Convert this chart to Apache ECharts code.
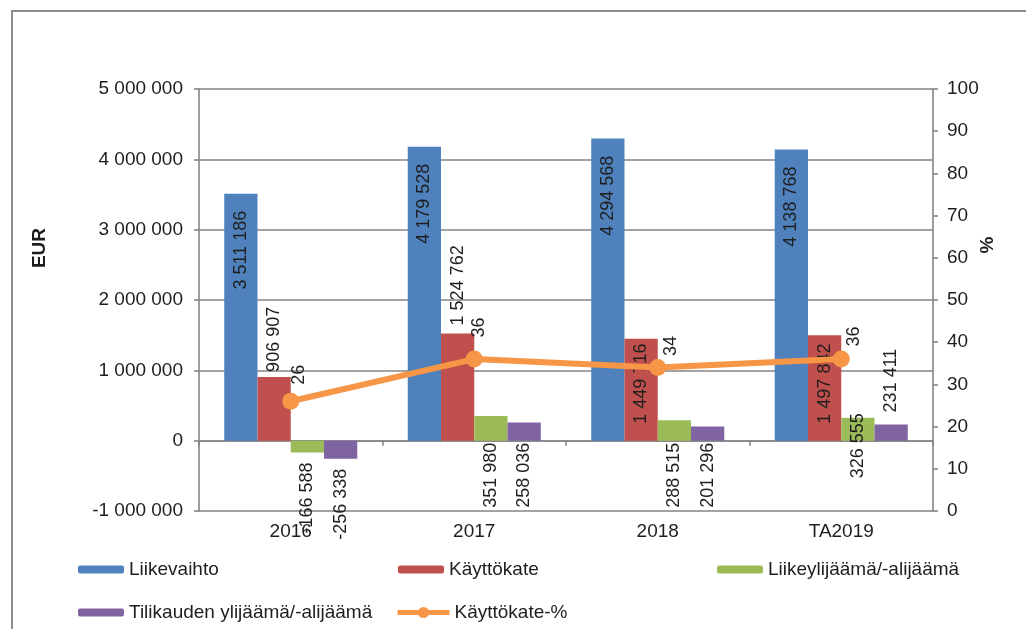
<!DOCTYPE html>
<html>
<head>
<meta charset="utf-8">
<script src="https://cdn.jsdelivr.net/npm/echarts@6/dist/echarts.min.js"></script>
<style>
  html, body { margin: 0; padding: 0; background: #ffffff; }
  #chart { width: 1026px; height: 629px; }
</style>
</head>
<body>
<div id="chart"></div>
<script>
// Categories and series values
const years = ['2016', '2017', '2018', 'TA2019'];
const liikevaihto = [3511186, 4179528, 4294568, 4138768];
const kayttokate = [906907, 1524762, 1449716, 1497842];
const liikeylijaama = [-166588, 351980, 288515, 326555];
const tilikaudenYlijaama = [-256338, 258036, 201296, 231411];
const kayttokatePct = [26, 36, 34, 36];

// Tick values for the two value axes
const eurTicks = { min: -1000000, max: 5000000, step: 1000000 };
const pctTicks = { min: 0, max: 100, step: 10 };

// Series names (legend text)
const names = ['Liikevaihto', 'Käyttökate', 'Liikeylijäämä/-alijäämä',
               'Tilikauden ylijäämä/-alijäämä', 'Käyttökate-%'];

const colors = ['#4F81BD', '#C0504D', '#9BBB59', '#8064A2', '#F79646'];
const FONT = 'Liberation Sans, Arial, sans-serif';
const TEXT = '#1e1e1e';
const GRIDC = '#858585';

function spaced(v) {
  const s = String(Math.abs(Math.round(v))).replace(/\B(?=(\d{3})+(?!\d))/g, ' ');
  return (v < 0 ? '-' : '') + s;
}

// Per-point placement of the rotated value labels: [position, distance, align]
const barLabelPlacement = [
  [['insideTop', 17, 'right'], ['insideTop', 17, 'right'], ['insideTop', 17, 'right'], ['insideTop', 17, 'right']],
  [['top', 5, 'left'], ['top', 8, 'left'], ['insideBottom', 17, 'left'], ['insideBottom', 17, 'left']],
  [['bottom', 10, 'right'], ['bottom', 2, 'right'], ['bottom', 2, 'right'], ['bottom', 5, 'center']],
  [['bottom', 10, 'right'], ['bottom', 2, 'right'], ['bottom', 2, 'right'], ['top', 12, 'left']]
];
// Label anchors for the line points, relative to the marker box
const lineLabelPlacement = [[17, -8], [13, -13], [22, -3], [21, -4]];

function barData(values, si) {
  return values.map((v, i) => {
    const p = barLabelPlacement[si][i];
    return {
      value: v,
      label: { position: p[0], distance: p[1], align: p[2] }
    };
  });
}

function barSeries(values, si) {
  return {
    name: names[si],
    type: 'bar',
    xAxisIndex: 0,
    yAxisIndex: 0,
    barGap: '0%',
    barCategoryGap: '27.5%',
    itemStyle: { color: colors[si] },
    label: {
      show: true,
      rotate: 90,
      verticalAlign: 'middle',
      fontFamily: FONT,
      fontSize: 18,
      color: TEXT,
      formatter: (p) => spaced(p.value)
    },
    data: barData(values, si)
  };
}

const chart = echarts.init(document.getElementById('chart'), null, { renderer: 'canvas' });

const legendText = { fontFamily: FONT, fontSize: 19, color: TEXT };
function legendAt(name, left, top, w, h, extra) {
  return Object.assign({
    data: [name], left: left, top: top, padding: 0,
    itemWidth: w, itemHeight: h, itemGap: 0,
    textStyle: legendText, selectedMode: false
  }, extra || {});
}

const option = {
  animation: false,
  color: colors,
  grid: { left: 199, right: 93, top: 89, bottom: 118, containLabel: false },
  legend: [
    legendAt(names[0], 78, 560, 46, 8),
    legendAt(names[1], 398, 560, 46, 8),
    legendAt(names[2], 717, 560, 46, 8),
    legendAt(names[3], 78, 603, 46, 8),
    legendAt(names[4], 395, 603, 52, 14, { lineStyle: { width: 5 } })
  ],
  xAxis: [
    {
      type: 'category',
      data: years,
      position: 'bottom',
      axisLine: { show: false, onZero: false },
      axisTick: { show: false },
      axisLabel: { fontFamily: FONT, fontSize: 19, color: TEXT, margin: 11 },
      splitLine: { show: false }
    },
    {
      type: 'category',
      data: years,
      position: 'bottom',
      axisLine: { show: true, onZero: true, lineStyle: { color: GRIDC, width: 1.6 } },
      axisTick: { show: true, length: 5, lineStyle: { color: GRIDC, width: 1.6 } },
      axisLabel: { show: false },
      splitLine: { show: false }
    }
  ],
  yAxis: [
    {
      type: 'value',
      min: eurTicks.min, max: eurTicks.max, interval: eurTicks.step,
      position: 'left',
      axisLine: { show: true, lineStyle: { color: GRIDC, width: 1.6 } },
      axisTick: { show: true, length: 5, lineStyle: { color: GRIDC, width: 1.6 } },
      axisLabel: { fontFamily: FONT, fontSize: 19, color: TEXT, margin: 16, formatter: (v) => spaced(v) },
      splitLine: { show: true, lineStyle: { color: GRIDC, width: 1.6 } }
    },
    {
      type: 'value',
      min: pctTicks.min, max: pctTicks.max, interval: pctTicks.step,
      position: 'right',
      axisLine: { show: true, lineStyle: { color: GRIDC, width: 1.6 } },
      axisTick: { show: true, length: 5, lineStyle: { color: GRIDC, width: 1.6 } },
      axisLabel: { fontFamily: FONT, fontSize: 19, color: TEXT, margin: 14 },
      splitLine: { show: false }
    }
  ],
  series: [
    barSeries(liikevaihto, 0),
    barSeries(kayttokate, 1),
    barSeries(liikeylijaama, 2),
    barSeries(tilikaudenYlijaama, 3),
    {
      name: names[4],
      type: 'line',
      xAxisIndex: 0,
      yAxisIndex: 1,
      z: 10,
      symbol: 'circle',
      symbolSize: 17,
      lineStyle: { color: colors[4], width: 6 },
      itemStyle: { color: colors[4] },
      label: {
        show: true,
        rotate: 90,
        align: 'left',
        verticalAlign: 'middle',
        fontFamily: FONT,
        fontSize: 18,
        color: TEXT
      },
      data: kayttokatePct.map((v, i) => ({ value: v, label: { position: lineLabelPlacement[i] } }))
    }
  ],
  graphic: [
    {
      type: 'rect',
      silent: true,
      shape: { x: 12, y: 11, width: 1100, height: 700 },
      style: { fill: 'none', stroke: '#8c8c8c', lineWidth: 2 }
    },
    {
      type: 'text',
      x: 40, y: 248, rotation: Math.PI / 2,
      style: {
        text: 'EUR', fontFamily: FONT, fontSize: 19, fontWeight: 'bold', fill: TEXT,
        align: 'center', verticalAlign: 'middle', textAlign: 'center', textVerticalAlign: 'middle'
      }
    },
    {
      type: 'text',
      x: 988, y: 245, rotation: Math.PI / 2,
      style: {
        text: '%', fontFamily: FONT, fontSize: 19, fontWeight: 'bold', fill: TEXT,
        align: 'center', verticalAlign: 'middle', textAlign: 'center', textVerticalAlign: 'middle'
      }
    }
  ]
};

chart.setOption(option);
</script>
</body>
</html>
